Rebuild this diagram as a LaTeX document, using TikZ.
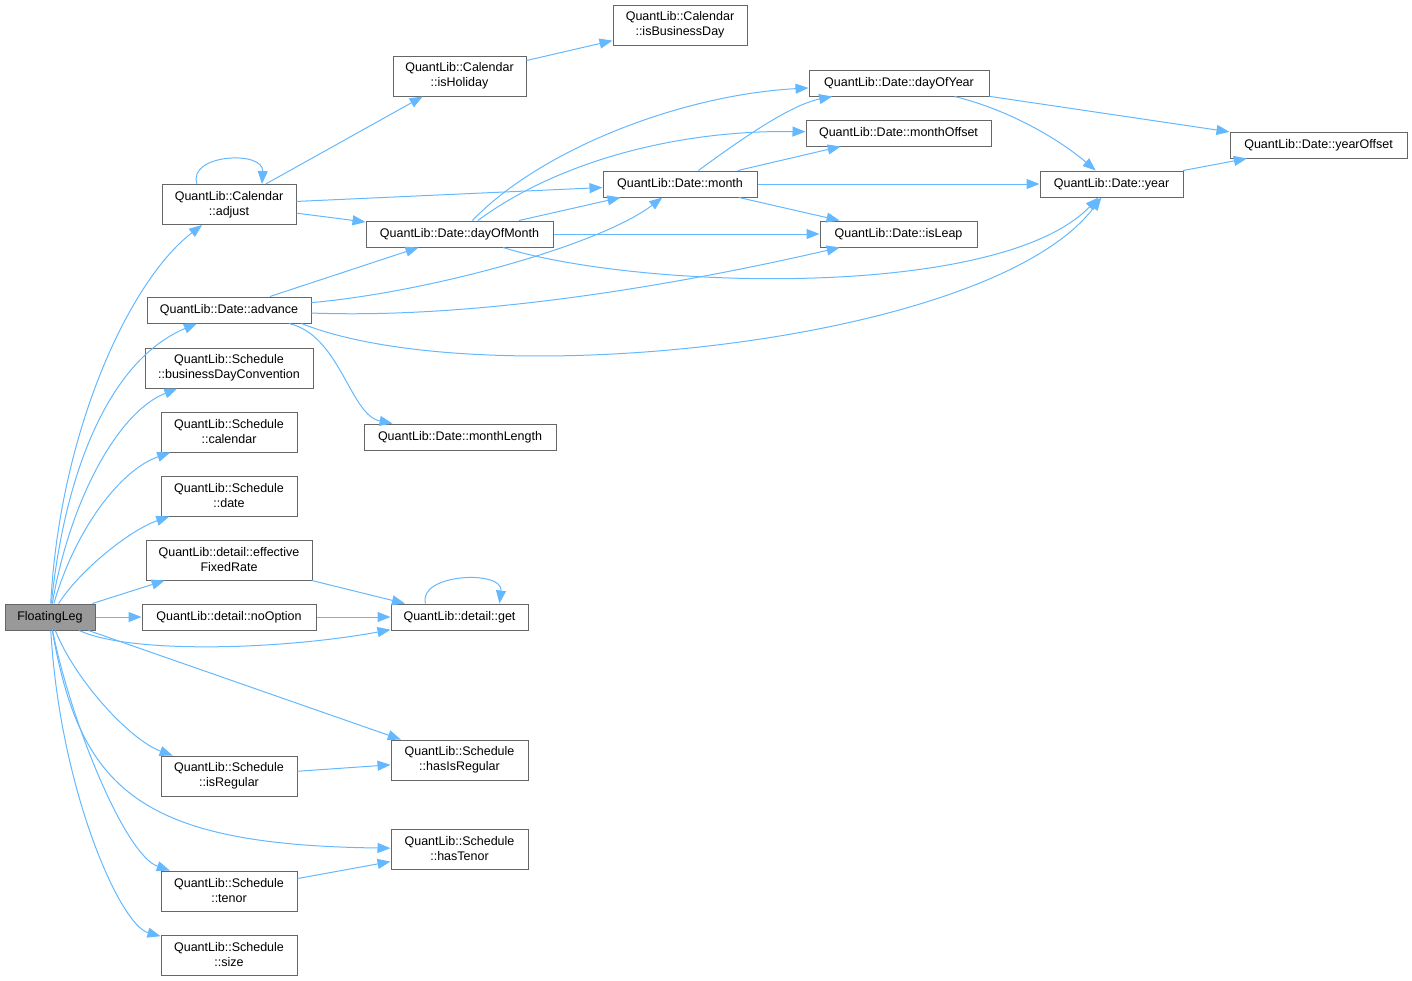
\documentclass[tikz,border=0pt]{standalone}
\usepackage{fontspec}
\setmainfont{Liberation Sans}
\usetikzlibrary{arrows.meta}
\definecolor{edgeblue}{HTML}{63B8FF}
\definecolor{boxline}{HTML}{666666}
\definecolor{rootfill}{HTML}{999999}

\begin{document}
\begin{tikzpicture}[
    x=1pt,y=-1pt,
    box/.style={rectangle,draw=boxline,line width=1pt,fill=white,inner sep=0pt,
                minimum height=26pt,align=center,
                font=\fontsize{12.5}{15}\selectfont},
    tall/.style={minimum height=40pt},
    root/.style={box,fill=rootfill},
    arrow/.style={-{Triangle[length=13pt,width=10pt]},line width=1pt,edgeblue}
  ]
    \useasboundingbox (0,0) rectangle (1412,980);

    % left column
    \node[root,minimum width=90pt]       (fl)      at (50,617)    {FloatingLeg};
    \node[box,tall,minimum width=134pt]  (adjust)  at (229,204.5) {QuantLib::Calendar\\::adjust};
    \node[box,minimum width=164pt]       (advance) at (229,310)   {QuantLib::Date::advance};
    \node[box,tall,minimum width=168pt]  (bdc)     at (229,368)   {QuantLib::Schedule\\::businessDayConvention};
    \node[box,tall,minimum width=136pt]  (cal)     at (229,432)   {QuantLib::Schedule\\::calendar};
    \node[box,tall,minimum width=136pt]  (date)    at (229,496)   {QuantLib::Schedule\\::date};
    \node[box,tall,minimum width=166pt]  (eff)     at (229,560)   {QuantLib::detail::effective\\FixedRate};
    \node[box,minimum width=174pt]       (noopt)   at (229,617)   {QuantLib::detail::noOption};
    \node[box,tall,minimum width=136pt]  (isreg)   at (229,776)   {QuantLib::Schedule\\::isRegular};
    \node[box,tall,minimum width=136pt]  (tenor)   at (229,891)   {QuantLib::Schedule\\::tenor};
    \node[box,tall,minimum width=136pt]  (size)    at (229,955)   {QuantLib::Schedule\\::size};

    % middle column
    \node[box,tall,minimum width=133pt]  (isholiday) at (459.5,76)  {QuantLib::Calendar\\::isHoliday};
    \node[box,tall,minimum width=134pt]  (isbusday)  at (680,25)    {QuantLib::Calendar\\::isBusinessDay};
    \node[box,minimum width=187pt]       (dom)       at (459.5,234) {QuantLib::Date::dayOfMonth};
    \node[box,minimum width=192pt]       (mlen)      at (460,437)   {QuantLib::Date::monthLength};
    \node[box,minimum width=137pt]       (get)       at (459.5,617) {QuantLib::detail::get};
    \node[box,tall,minimum width=137pt]  (hasisreg)  at (459.5,760) {QuantLib::Schedule\\::hasIsRegular};
    \node[box,tall,minimum width=137pt]  (hastenor)  at (459.5,849) {QuantLib::Schedule\\::hasTenor};
    \node[box,minimum width=154pt]       (month)     at (680,184)   {QuantLib::Date::month};

    % right columns
    \node[box,minimum width=180pt] (doy)    at (899,83)     {QuantLib::Date::dayOfYear};
    \node[box,minimum width=185pt] (moff)   at (898.5,133)  {QuantLib::Date::monthOffset};
    \node[box,minimum width=157pt] (isleap) at (898.5,234)  {QuantLib::Date::isLeap};
    \node[box,minimum width=143pt] (year)   at (1111.5,184) {QuantLib::Date::year};
    \node[box,minimum width=177pt] (yoff)   at (1318.5,145) {QuantLib::Date::yearOffset};

    % calls from FloatingLeg
    \draw[arrow] (fl) .. controls (60,430) and (130,280) .. (adjust);
    \draw[arrow] (fl) .. controls (65,470) and (110,360) .. (advance);
    \draw[arrow] (fl) .. controls (70,500) and (118,412) .. (bdc);
    \draw[arrow] (fl) .. controls (75,530) and (120,470) .. (cal);
    \draw[arrow] (fl) .. controls (80,570) and (130,530) .. (date);
    \draw[arrow] (fl) -- (eff);
    \draw[arrow] (fl) -- (noopt);
    \draw[arrow] (fl) .. controls (130,654) and (280,650) .. (get);
    \draw[arrow] (fl) -- (hasisreg);
    \draw[arrow] (fl) .. controls (75,680) and (130,740) .. (isreg);
    \draw[arrow] (fl) .. controls (80,790) and (140,845) .. (hastenor);
    \draw[arrow] (fl) .. controls (70,720) and (125,855) .. (tenor);
    \draw[arrow] (fl) .. controls (60,790) and (120,925) .. (size);

    % calendar
    \draw[arrow] ([xshift=-32pt]adjust.north) .. controls +(-10,-30) and +(2,-34) .. ([xshift=33pt]adjust.north);
    \draw[arrow] (adjust) -- (isholiday);
    \draw[arrow] (isholiday) -- (isbusday);
    \draw[arrow] (adjust) -- (month);
    \draw[arrow] (adjust) -- (dom);

    % date
    \draw[arrow] (advance) -- (dom);
    \draw[arrow] (advance) .. controls (430,292) and (600,245) .. (month);
    \draw[arrow] (advance) .. controls (500,320) and (720,275) .. (isleap);
    \draw[arrow] ([xshift=-10pt]advance.south east) .. controls (480,395) and (990,345) .. (year);
    \draw[arrow] (advance) .. controls (340,335) and (350,415) .. (mlen);
    \draw[arrow] (dom) .. controls (540,150) and (680,95) .. (doy);
    \draw[arrow] (dom) .. controls (560,160) and (680,130) .. (moff);
    \draw[arrow] (dom) -- (month);
    \draw[arrow] (dom) -- (isleap);
    \draw[arrow] (dom) .. controls (640,290) and (1000,300) .. (year);
    \draw[arrow] (month) .. controls (740,140) and (790,105) .. (doy);
    \draw[arrow] (month) -- (moff);
    \draw[arrow] (month) -- (year);
    \draw[arrow] (month) -- (isleap);
    \draw[arrow] (doy) .. controls (1010,110) and (1060,140) .. (year);
    \draw[arrow] (doy) -- (yoff);
    \draw[arrow] (year) -- (yoff);

    % detail / schedule
    \draw[arrow] (eff) -- (get);
    \draw[arrow] (noopt) -- (get);
    \draw[arrow] ([xshift=-34pt]get.north) .. controls +(-8,-30) and +(4,-34) .. ([xshift=40pt]get.north);
    \draw[arrow] (isreg) -- (hasisreg);
    \draw[arrow] (tenor) -- (hastenor);
\end{tikzpicture}
\end{document}
